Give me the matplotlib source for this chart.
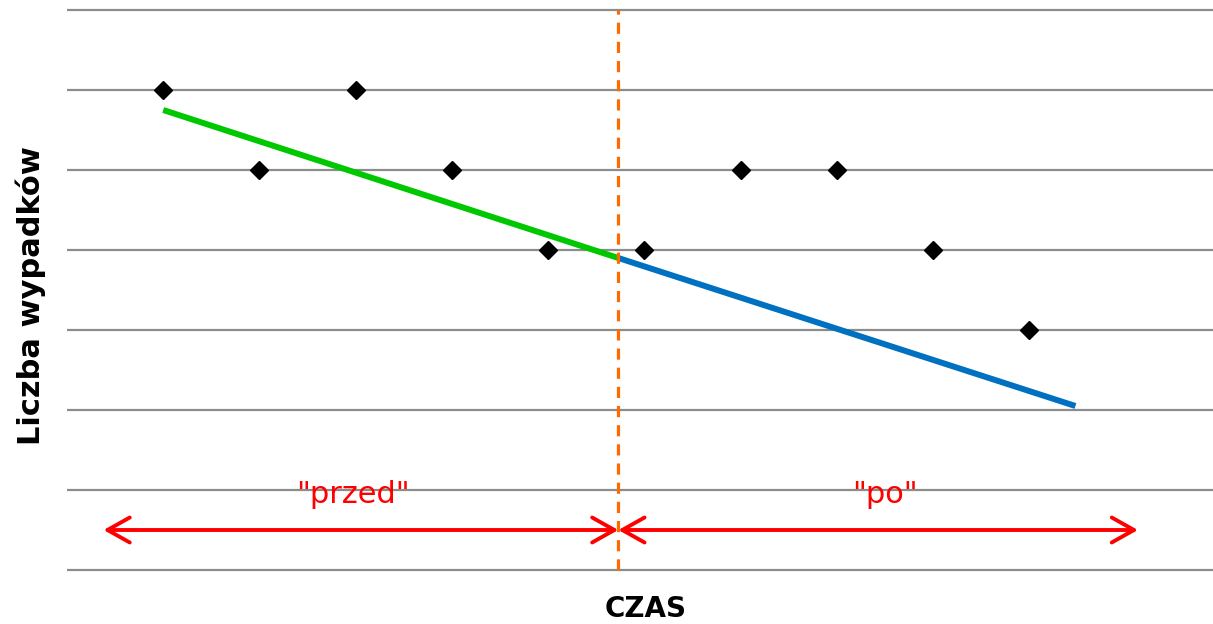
import matplotlib
matplotlib.use('Agg')
import matplotlib.pyplot as plt

# punkty pomiarowe
czas = [1, 2, 3, 4, 5, 6, 7, 8, 9, 10]
wypadki = [6, 5, 6, 5, 4, 4, 5, 5, 4, 3]

# linie trendu (koncowki)
przed_x = [1, 5.73]
przed_y = [5.75, 3.9]
po_x = [5.73, 10.48]
po_y = [3.9, 2.05]

interwencja = 5.73
strzalka_y = 0.5
strzalka_lewa = 0.38
strzalka_prawa = 11.13
grid_y = [0, 1, 2, 3, 4, 5, 6, 7]

plt.rcParams['font.family'] = ['DejaVu Sans']

fig = plt.figure(figsize=(12.13, 6.24), dpi=100)
ax = fig.add_axes([67 / 1213, (624 - 572) / 624, 1 - 67 / 1213, 564 / 624])
ax.set_xlim(0, 11.91)
ax.set_ylim(-0.025, 7.025)

for g in grid_y:
    ax.axhline(g, color='#8c8c8c', lw=1.6, zorder=1)

ax.plot(przed_x, przed_y, color='#00c800', lw=4.3, solid_capstyle='butt', zorder=3)
ax.plot(po_x, po_y, color='#0070c0', lw=4.3, solid_capstyle='butt', zorder=3)
ax.plot(czas, wypadki, 'D', color='black', markersize=9, zorder=4)

ax.plot([interwencja, interwencja], [0, 7], color='#ff6a00', lw=2.3,
        linestyle=(0, (3.5, 2.5)), zorder=5)

styl = '<->,head_length=1.6,head_width=0.9'
ax.annotate('', xy=(strzalka_lewa, strzalka_y), xytext=(interwencja, strzalka_y),
            arrowprops=dict(arrowstyle=styl, color='red', lw=2.8, shrinkA=0, shrinkB=0))
ax.annotate('', xy=(strzalka_prawa, strzalka_y), xytext=(interwencja, strzalka_y),
            arrowprops=dict(arrowstyle=styl, color='red', lw=2.8, shrinkA=0, shrinkB=0))

ax.text(2.97, 0.94, '"przed"', color='red', fontsize=22, ha='center', va='center')
ax.text(8.5, 0.94, '"po"', color='red', fontsize=22, ha='center', va='center')

ax.set_xticks([])
ax.set_yticks([])
for s in ax.spines.values():
    s.set_visible(False)

fig.text(646 / 1213, 1 - 609 / 624, 'CZAS', fontsize=20, fontweight='bold', ha='center', va='center')
fig.text(31 / 1213, 1 - 296 / 624, 'Liczba wypadków', fontsize=22, fontweight='bold',
         rotation=90, ha='center', va='center')

fig.savefig('out.png', dpi=100)
